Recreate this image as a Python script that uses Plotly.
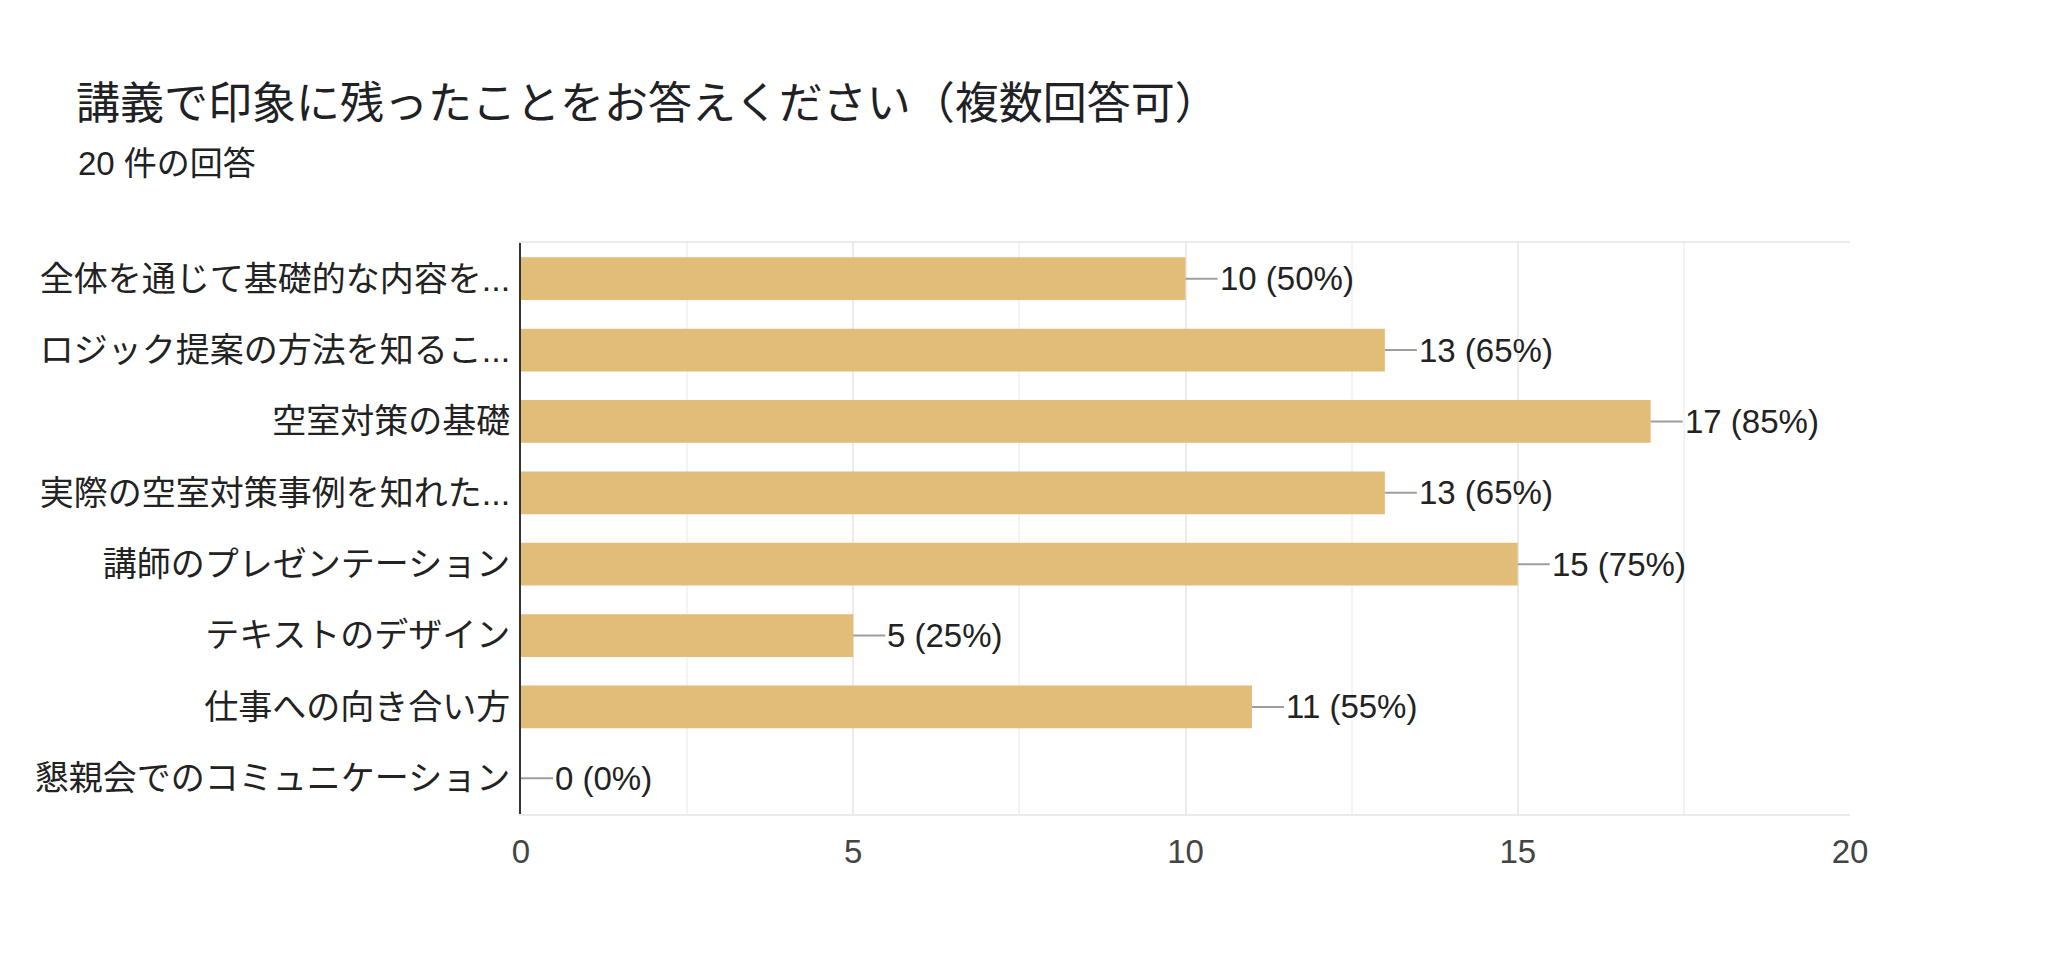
import plotly.graph_objects as go

# survey answers (Google Forms style summary)
categories = [
    "全体を通じて基礎的な内容を...",
    "ロジック提案の方法を知るこ...",
    "空室対策の基礎",
    "実際の空室対策事例を知れた...",
    "講師のプレゼンテーション",
    "テキストのデザイン",
    "仕事への向き合い方",
    "懇親会でのコミュニケーション",
]
counts = [10, 13, 17, 13, 15, 5, 11, 0]
total_responses = 20
x_ticks = [0, 5, 10, 15, 20]

title_text = "講義で印象に残ったことをお答えください（複数回答可）"
subtitle_text = f"{total_responses} 件の回答"

W, H = 2048, 974
margin = dict(l=513, r=206, t=235, b=168)
FONT = "Liberation Sans, Arial, Noto Sans CJK JP, sans-serif"
bar_colour = "#e1bd79"

fig = go.Figure()
fig.add_trace(go.Bar(
    x=counts, y=categories, orientation="h",
    marker=dict(color=bar_colour, line=dict(width=0)),
    hoverinfo="x+y", showlegend=False,
))

# value labels with the little grey leader line
for cat, n in zip(categories, counts):
    pct = round(n / total_responses * 100)
    fig.add_annotation(
        x=n, y=cat, text=f"{n} ({pct}%)",
        showarrow=True, arrowhead=0, arrowwidth=2, arrowcolor="#9e9e9e",
        ax=32, ay=0, standoff=0, xanchor="left", yanchor="middle",
        font=dict(family=FONT, size=33, color="#222222"),
    )

# subtitle sits under the title, placed in paper units from pixel spots
plot_w = W - margin["l"] - margin["r"]
plot_h = H - margin["t"] - margin["b"]
fig.add_annotation(
    xref="paper", yref="paper",
    x=(68 - margin["l"]) / plot_w, y=(H - margin["b"] - 155) / plot_h,
    text=subtitle_text, showarrow=False, xanchor="left", yanchor="middle",
    font=dict(family=FONT, size=33, color="#202124"),
)

fig.update_layout(
    width=W, height=H,
    margin=margin,
    paper_bgcolor="white", plot_bgcolor="white",
    bargap=0.4,
    title=dict(text=title_text, xref="container", yref="container",
               x=68 / W, y=1 - 96 / H, xanchor="left", yanchor="middle",
               font=dict(family=FONT, size=44, color="#202124")),
    font=dict(family=FONT),
)

fig.update_xaxes(
    range=[0, 20], tickvals=x_ticks, ticktext=[str(t) for t in x_ticks],
    showgrid=True, gridcolor="#ebebeb", gridwidth=2,
    minor=dict(dtick=2.5, showgrid=True, gridcolor="#f3f3f3", gridwidth=2),
    showline=True, linecolor="#ebebeb", linewidth=2, mirror=True,
    zeroline=False, ticks="", ticklabelstandoff=7,
    tickfont=dict(family=FONT, size=33, color="#444444"),
    automargin=False, fixedrange=True,
)
fig.update_yaxes(
    autorange="reversed", showgrid=False, zeroline=False,
    showline=True, linecolor="#333333", linewidth=2,
    ticks="", ticklabelstandoff=2,
    tickfont=dict(family=FONT, size=34, color="#222222"),
    automargin=False, fixedrange=True,
)

fig.write_html("out.html")
